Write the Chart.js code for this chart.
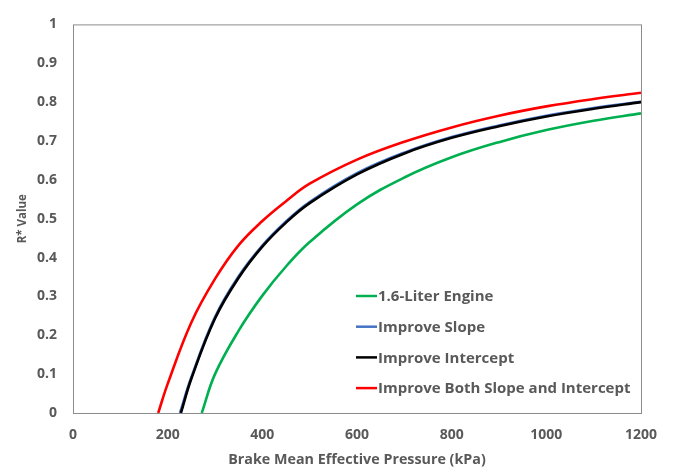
<!DOCTYPE html>
<html>
<head>
<meta charset="utf-8">
<script src="https://cdn.jsdelivr.net/npm/chart.js@4/dist/chart.umd.min.js"></script>
<style>
  html, body { margin: 0; padding: 0; background: #fff; }
  #wrap { width: 673px; height: 472px; }
</style>
</head>
<body>
<div id="wrap"><canvas id="chart" width="673" height="472"></canvas></div>
<script>
// Series labels
const seriesLabels = ["1.6-Liter Engine", "Improve Slope", "Improve Intercept", "Improve Both Slope and Intercept"];

// BMEP (kPa) and R* value
const engineX = [272, 300, 350, 400, 450, 500, 600, 700, 800, 900, 1000, 1100, 1200];
const engineY = [0, 0.10, 0.212, 0.302, 0.377, 0.44, 0.537, 0.606, 0.658, 0.697, 0.728, 0.752, 0.771];

const slopeX = [226, 250, 300, 350, 400, 450, 500, 600, 700, 800, 900, 1000, 1100, 1200];
const slopeY = [0, 0.092, 0.247, 0.352, 0.431, 0.493, 0.543, 0.617, 0.670, 0.710, 0.740, 0.765, 0.785, 0.801];

const interceptX = [228, 250, 300, 350, 400, 450, 500, 600, 700, 800, 900, 1000, 1100, 1200];
const interceptY = [0, 0.088, 0.243, 0.348, 0.428, 0.490, 0.540, 0.614, 0.668, 0.708, 0.738, 0.763, 0.783, 0.800];

const bothX = [180, 200, 250, 300, 350, 400, 450, 500, 600, 700, 800, 900, 1000, 1100, 1200];
const bothY = [0, 0.075, 0.233, 0.345, 0.432, 0.494, 0.545, 0.590, 0.652, 0.698, 0.735, 0.765, 0.789, 0.808, 0.824];

const FONT = "'Open Sans'";
const GREY = "#595959";

let pts = (xs, ys) => xs.map((x, i) => ({ x: x, y: ys[i] }));

// Box round the plot area plus the legend drawn inside it
const boxAndLegend = {
    id: "boxAndLegend",
    afterDatasetsDraw(chart) {
        const { ctx, chartArea: a } = chart;
        ctx.save();
        ctx.strokeStyle = "#8c8c8c";
        ctx.lineWidth = 1;
        ctx.strokeRect(a.left + 0.5, a.top + 0.5, a.right - a.left, a.bottom - a.top);

        // legend
        ctx.font = `bold 15px ${FONT}`;
        ctx.textBaseline = "middle";
        ctx.fillStyle = GREY;
        chart.data.datasets.forEach((ds, i) => {
            let y = 296 + i * 30.7;
            ctx.strokeStyle = ds.borderColor;
            ctx.lineWidth = 2.5;
            ctx.beginPath();
            ctx.moveTo(356, y);
            ctx.lineTo(377, y);
            ctx.stroke();
            ctx.fillText(ds.label, 378, y + 1);
        });
        ctx.restore();
    }
};

const lineStyle = { borderWidth: 2.6, pointRadius: 0, fill: false, tension: 0.4 };

new Chart(document.getElementById("chart"), {
    type: "line",
    data: {
        datasets: [
            { label: seriesLabels[0], data: pts(engineX, engineY), borderColor: "#00b050", order: 3, ...lineStyle },
            { label: seriesLabels[1], data: pts(slopeX, slopeY), borderColor: "#4472c4", order: 2, ...lineStyle },
            { label: seriesLabels[2], data: pts(interceptX, interceptY), borderColor: "#000000", order: 1, ...lineStyle },
            { label: seriesLabels[3], data: pts(bothX, bothY), borderColor: "#ff0000", order: 0, ...lineStyle }
        ]
    },
    options: {
        responsive: false,
        animation: false,
        layout: { padding: { top: 14, right: 32, left: 0, bottom: 0 } },
        plugins: { legend: { display: false }, tooltip: { enabled: false } },
        scales: {
            x: {
                type: "linear", min: 0, max: 1200,
                grid: { display: false, drawTicks: false },
                border: { display: false },
                ticks: { stepSize: 200, padding: 14, color: GREY, font: { family: FONT, size: 14, weight: "bold" }, maxRotation: 0, callback: (v) => `${v}` },
                title: { display: true, text: "Brake Mean Effective Pressure (kPa)", color: GREY, font: { family: FONT, size: 14.3, weight: "bold" }, padding: { top: 4, bottom: 3 } },
                afterFit: (s) => { s.height = 59; }
            },
            y: {
                min: 0, max: 1,
                grid: { display: false, drawTicks: false },
                border: { display: false },
                ticks: { stepSize: 0.1, padding: 16, color: GREY, font: { family: FONT, size: 14, weight: "bold" }, callback: (v) => `${Math.round(v * 10) / 10}` },
                title: { display: true, text: "R* Value", color: GREY, font: { family: FONT, size: 11.5, weight: "bold" }, padding: { top: 16, bottom: 0 } },
                afterFit: (s) => { s.width = 73; }
            }
        }
    },
    plugins: [boxAndLegend]
});
</script>
</body>
</html>
